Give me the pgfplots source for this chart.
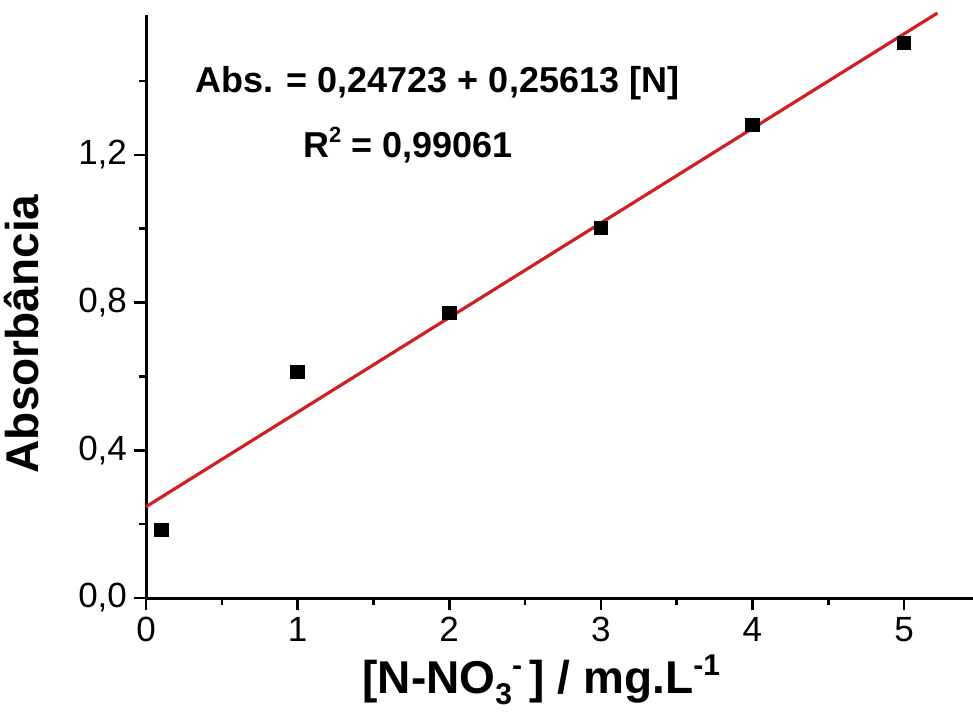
\documentclass[border=0pt]{standalone}
\usepackage{fontspec}
\setmainfont{Liberation Sans}
\usepackage{pgfplots}
\pgfplotsset{compat=1.18}
\definecolor{fitred}{RGB}{208,32,36}

\begin{document}
\begin{tikzpicture}
\begin{axis}[
 scale only axis,
 width=413.5pt, height=291.5pt,
 xmin=0, xmax=5.455,
 ymin=0, ymax=1.579,
 axis lines=left,
 axis line style={-, line width=1.5pt},
 clip=false,
 xtick={0,1,2,3,4,5},
 minor xtick={0.5,1.5,2.5,3.5,4.5},
 ytick={0,0.4,0.8,1.2},
 minor ytick={0.2,0.6,1.0,1.4},
 tick align=outside,
 major tick length=6pt,
 minor tick length=3.5pt,
 every tick/.style={black, line width=1.3pt},
 /pgf/number format/assume math mode=true,
 yticklabel style={/pgf/number format/.cd, use comma, fixed, fixed zerofill, precision=1},
 ticklabel style={font=\fontsize{17.5}{20}\selectfont},
 xlabel={[N-NO\raisebox{-0.45ex}{\fontsize{15}{17}\selectfont 3}\raisebox{0.75ex}{\fontsize{15}{17}\selectfont -}\,] / mg.L\raisebox{0.75ex}{\fontsize{15}{17}\selectfont -1}},
 ylabel={Absorbância},
 label style={font=\fontsize{23}{27}\bfseries},
 xlabel style={at={(rel axis cs:0.478,0)}, anchor=north, yshift=-25pt},
 ylabel style={at={(rel axis cs:0,0.453)}, anchor=south, yshift=50pt},
]
\addplot[only marks, mark=square*, mark size=3.4pt, black] coordinates {
 (0.1,0.184)
 (1,0.612)
 (2,0.772)
 (3,1.002)
 (4,1.281)
 (5,1.503)
};
\addplot[fitred, line width=1.6pt] coordinates {
 (0,0.24723)
 (5.22,1.58423)
};
\node[anchor=west, font=\fontsize{18}{21}\bfseries] at (axis cs:0.28,1.395) {Abs. = 0,24723 + 0,25613 [N]};
\node[anchor=west, font=\fontsize{18}{21}\bfseries] at (axis cs:0.99,1.227) {R\raisebox{0.8ex}{\fontsize{11}{13}\selectfont 2} = 0,99061};
\coordinate (ll) at (rel axis cs:0,0);
\coordinate (ur) at (rel axis cs:1,1);
\end{axis}
\pgfresetboundingbox
\path ([shift={(-73pt,-57.5pt)}]ll) rectangle ([shift={(0pt,7.5pt)}]ur);
\end{tikzpicture}
\end{document}
